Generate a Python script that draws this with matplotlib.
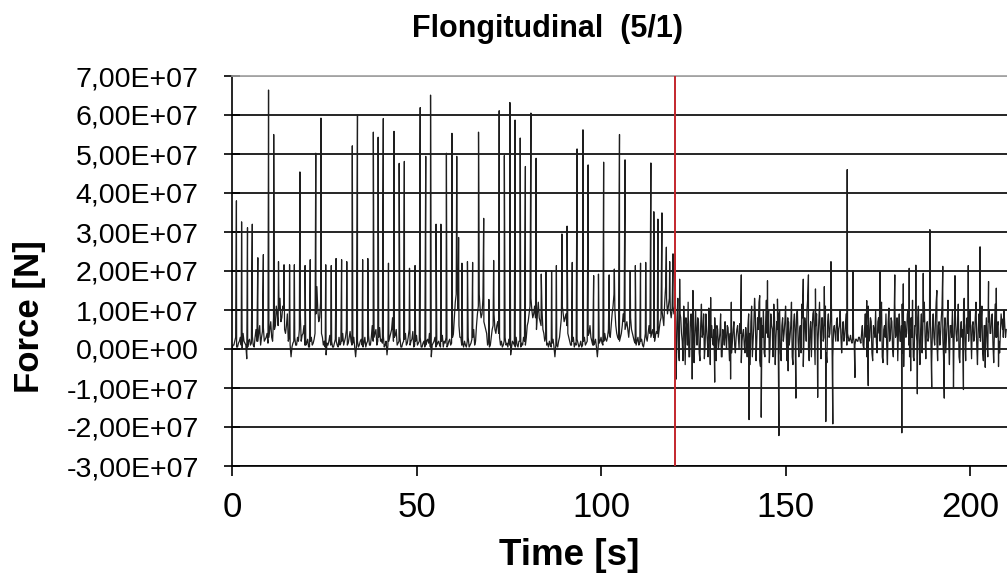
import numpy as np
import matplotlib
matplotlib.use('Agg')
import matplotlib.pyplot as plt
from matplotlib.ticker import FuncFormatter

# ---- data (force in units of 1e7 N) ----
# phase 1 (0-120 s): impact spikes
spike1_t = [1.2, 2.6, 4.2, 5.5, 7.0, 8.5, 9.9, 11.3, 12.6, 14.1, 15.6, 16.9, 18.4, 19.8,
            21.2, 22.7, 24.1, 25.4, 26.9, 28.2, 29.7, 31.1, 32.6, 34.0, 35.4, 36.8, 38.3,
            39.6, 41.0, 42.4, 43.9, 45.3, 46.7, 48.1, 49.6, 51.0, 52.5, 53.8, 55.3, 56.6,
            58.1, 59.6, 60.9, 61.4, 62.3, 63.8, 65.2, 66.8, 68.2, 69.6, 70.9, 72.4, 73.8,
            75.3, 76.7, 78.1, 79.5, 81.0, 82.4, 83.8, 85.1, 86.6, 87.9, 89.4, 90.8, 92.2,
            93.5, 95.1, 96.5, 98.0, 99.3, 100.7, 102.2, 103.6, 105.0, 106.5, 107.9, 109.3,
            110.7, 112.1, 113.5, 114.3, 115.4, 116.5, 117.7, 118.6, 119.5]
spike1_v = [3.80, 3.26, 3.11, 3.20, 2.34, 2.42, 6.64, 5.50, 2.24, 2.16, 2.16, 2.16, 4.54, 2.14,
            2.29, 5.02, 5.92, 2.16, 2.14, 2.32, 2.29, 2.24, 5.21, 6.00, 2.29, 2.32, 5.56,
            5.43, 5.91, 2.20, 5.58, 4.76, 4.81, 2.07, 2.14, 6.19, 4.94, 6.51, 3.20, 3.20,
            5.02, 5.53, 4.94, 2.86, 2.20, 2.24, 2.22, 5.56, 3.35, 1.27, 2.27, 6.11, 4.96,
            6.32, 5.87, 5.41, 4.68, 6.05, 4.89, 1.92, 2.01, 2.01, 2.14, 2.95, 3.15, 2.22,
            5.13, 5.62, 4.72, 1.88, 1.92, 4.79, 1.90, 2.05, 5.50, 4.85, 2.01, 2.14,
            2.20, 2.22, 4.77, 3.52, 3.33, 3.49, 2.61, 2.24, 2.44]

# phase 1 baseline, one value every 0.5 s (a) and the same grid shifted by 0.25 s (b)
base1_dt = 0.5
base1a_v = [
    0.0, 0.1, 0.3, 0.05, 0.2, 0.1, 0.4, 0.15, -0.25, 0.2, 0.1, 0.35, 0.05, 0.5, 0.2, 0.6, 0.3, 0.55, 0.25, 0.4,
    0.3, 0.7, 0.2, 0.5, 1.1, 0.6, 1.3, 0.8, 1.0, 0.4, 0.9, 0.3, -0.2, 0.15, 0.3, 0.1, 0.2, 0.9, 0.35, 0.6,
    0.1, 0.25, 0.05, 0.3, 0.15, 0.4, 1.6, 0.7, 1.2, 0.3, 0.2, -0.15, 0.1, 0.35, 0.2, 0.05, 0.25, 0.1, 0.3, 0.15,
    0.4, 0.2, 0.5, 0.15, 0.45, 0.1, 0.3, -0.2, 0.2, 0.1, 0.25, 0.05, 0.3, 0.15, 0.35, 0.1, 0.6, 0.3, 0.5, 0.2,
    0.55, 0.25, 0.35, 0.1, -0.15, 0.2, 0.4, 0.8, 0.3, 0.5, 0.15, 0.3, 0.05, 0.2, 0.4, 0.15, 0.5, 0.2, 0.45, 0.1,
    0.35, 0.15, 0.3, 0.05, 0.2, 0.1, 0.25, 0.4, -0.2, 0.15, 0.3, 0.1, 0.2, 0.05, 0.35, 0.2, 0.3, 0.1, 0.25, 0.15,
    0.4, 1.2, 1.8, 0.6, 0.3, 0.15, 0.2, 0.05, 0.3, 0.1, 0.25, 0.5, 0.2, 0.9, 1.4, 0.8, 1.3, 0.6, 0.4, 0.2,
    0.1, 0.5, 0.9, 0.4, 0.7, 0.3, 0.2, 0.1, 0.3, 0.15, 0.25, -0.15, 0.2, 0.1, 0.3, 0.05, 0.2, 0.15, 0.3, 0.1,
    0.6, 0.9, 1.3, 0.8, 1.1, 0.5, 1.2, 0.7, 1.0, 0.4, 0.3, 0.15, 0.2, 0.05, 0.25, -0.2, 0.1, 0.2, 0.55, 1.1,
    0.7, 0.9, 0.4, 0.2, 0.1, 0.3, 0.15, 0.25, 0.05, 0.2, 0.1, 0.3, 0.15, 0.35, 0.6, 0.2, 0.1, 0.25, -0.2, 0.15,
    0.3, 0.1, 0.4, 0.2, 0.5, 0.3, 0.9, 1.4, 0.6, 0.3, 0.2, 0.4, 0.9, 0.5, 0.7, 0.3, 0.8, 0.4, 0.2, 0.1,
    0.3, 0.15, 0.25, 0.05, 0.4, 0.2, 0.6, 0.3, 0.5, 0.2, 0.45, 0.3, 0.7, 1.0, 0.6, 1.6, 0.9, 1.3, 0.8, 1.1,
]
base1b_v = [
    0.1, 0.2, 0.05, 0.15, 0.3, 0.0, 0.2, 0.1, 0.05, 0.25, 0.15, 0.1, 0.3, 0.2, 0.4, 0.1, 0.45, 0.2, 0.3, 0.15,
    0.5, 0.3, 0.8, 0.6, 0.9, 1.0, 0.7, 1.1, 0.5, 0.6, 0.2, 0.1, 0.05, 0.2, 0.1, 0.3, 0.5, 0.2, 0.4, 0.1,
    0.15, 0.05, 0.2, 0.1, 0.25, 0.9, 1.0, 0.8, 0.4, 0.1, 0.05, 0.15, 0.2, 0.1, 0.05, 0.15, 0.2, 0.05, 0.1, 0.2,
    0.1, 0.3, 0.1, 0.3, 0.2, 0.15, 0.05, 0.1, 0.05, 0.2, 0.1, 0.15, 0.05, 0.2, 0.1, 0.3, 0.2, 0.4, 0.1, 0.3,
    0.2, 0.15, 0.05, 0.2, 0.1, 0.3, 0.5, 0.2, 0.35, 0.1, 0.2, 0.05, 0.15, 0.25, 0.1, 0.3, 0.1, 0.25, 0.05, 0.2,
    0.1, 0.2, 0.05, 0.15, 0.05, 0.2, 0.15, 0.05, 0.1, 0.2, 0.05, 0.15, 0.1, 0.2, 0.05, 0.15, 0.05, 0.2, 0.1, 0.3,
    0.8, 1.4, 1.0, 0.3, 0.1, 0.05, 0.1, 0.2, 0.05, 0.15, 0.3, 0.1, 0.6, 1.1, 1.0, 0.9, 0.7, 0.5, 0.1, 0.05,
    0.3, 0.6, 0.5, 0.6, 0.4, 0.1, 0.05, 0.2, 0.1, 0.05, 0.1, 0.05, 0.15, 0.05, 0.1, 0.2, 0.05, 0.1, 0.2, 0.3,
    0.7, 1.1, 1.0, 0.9, 0.8, 0.9, 0.8, 0.6, 0.5, 0.2, 0.1, 0.05, 0.1, 0.15, 0.05, 0.1, 0.05, 0.3, 0.8, 0.9,
    0.8, 0.6, 0.3, 0.1, 0.2, 0.05, 0.1, 0.15, 0.1, 0.05, 0.2, 0.1, 0.2, 0.4, 0.3, 0.1, 0.15, 0.05, 0.1, 0.2,
    0.15, 0.2, 0.25, 0.3, 0.4, 0.6, 1.1, 1.0, 0.4, 0.25, 0.3, 0.6, 0.7, 0.6, 0.5, 0.6, 0.5, 0.3, 0.15, 0.2,
    0.1, 0.2, 0.1, 0.2, 0.3, 0.4, 0.4, 0.4, 0.3, 0.35, 0.4, 0.5, 0.8, 0.8, 1.2, 1.3, 1.1, 1.0, 1.0, 0.9,
]

# phase 2 (120-210 s): peaks and dips
spike2_t = [120.1, 120.4, 121.3, 124.7, 124.9, 129.7, 130.8, 135.1, 135.3, 138.0, 140.1, 143.0,
            143.4, 145.1, 147.8, 148.2, 150.7, 152.8, 154.8, 156.2, 158.1, 158.7, 160.5, 160.9,
            162.3, 162.8, 166.7, 168.3, 168.8, 172.0, 172.4, 175.6, 179.6, 181.5, 181.9, 183.5,
            183.9, 185.3, 185.7, 187.3, 189.1, 189.6, 191.0, 192.6, 193.0, 195.5, 195.9, 198.2,
            199.5, 202.7, 204.1, 205.0, 207.1, 207.7, 208.9]
spike2_v = [2.44, -0.77, 1.79, -0.77, 1.50, 1.32, -0.85, -0.77, 1.20, 1.90, -1.81, 1.37,
            -1.75, 1.75, 1.28, -2.22, -0.56, -1.26, 1.79, 1.90, 1.54, -1.24, 1.60, -1.86,
            2.24, -1.92, 4.60, 2.01, -0.73, 1.24, -0.94, 1.98, 1.90, -2.15, 1.67, 2.07,
            -0.56, 2.15, -1.15, 1.94, 3.06, -1.01, 1.50, 2.12, -1.26, -0.98, 1.88, -1.04,
            2.14, 2.62, -0.47, 1.73, 1.56, -0.45, 0.77]

# phase 2 noise band, one value every 0.4 s from 120 s (a) and from 120.2 s (b)
noise2_t0 = 120.0
noise2_dt = 0.4
noise2a_v = [
    0.9, -0.5, 1.3, -0.3, 0.8, 0.2, 1.1, -0.4, 0.6, 1.2, -0.2, 0.9, 0.3, -0.35, 1.0, 0.1, 0.7, -0.3, 1.15, 0.4, -0.25, 0.9, 0.2, 1.05, -0.4,
    0.6, 0.1, 0.8, -0.3, 0.5, 0.2, 0.9, -0.2, 0.4, 0.7, 0.0, 0.55, -0.3, 0.45, 0.2, 0.7, -0.1, 0.5, 0.3, 0.65, -0.35, 0.4, 0.1, 0.55, -0.2,
    0.9, -0.4, 1.1, 0.2, 1.3, -0.3, 0.8, 1.2, -0.45, 0.6, 1.0, -0.2, 1.25, 0.3, -0.35, 0.9, 0.5, 1.15, -0.4, 0.7, 0.2, 1.0, -0.3, 0.8, 0.4,
    1.1, -0.3, 0.7, 0.3, 1.2, -0.4, 0.9, 0.1, 1.0, -0.2, 0.6, 1.15, -0.45, 0.8, 0.2, 1.3, -0.3, 0.7, 0.5, 1.0, -0.4, 0.9, 0.2, 1.2, -0.25,
    0.8, 0.3, 1.1, -0.35, 0.9, 0.4, 1.25, -0.2, 0.6, 0.2, 0.8, 0.5, 1.0, -0.1, 0.7, 0.3, 0.9, 0.4, 0.2, 0.35, 0.15, 0.3, 0.1, 0.25, 0.2,
    0.3, 0.15, 0.6, 0.0, 0.9, -0.2, 1.1, 0.3, 0.7, -0.3, 0.5, 1.0, -0.1, 0.8, 0.2, 1.2, -0.35, 0.6, 0.9, -0.4, 1.05, 0.3, 0.7, -0.2, 1.2,
    0.4, -0.3, 0.9, 0.2, 1.15, -0.45, 0.7, 0.4, 1.0, -0.2, 0.8, 1.25, -0.3, 0.6, 0.2, 1.1, -0.4, 0.9, 0.5, 1.2, -0.25, 0.7, 0.3, 1.0, -0.35,
    0.9, 0.1, 1.2, -0.3, 0.7, 0.4, 1.1, -0.2, 0.8, 0.3, 1.25, -0.4, 0.6, 1.0, -0.1, 0.9, 0.2, 1.15, -0.35, 0.7, 0.5, 1.3, -0.3, 0.8, 0.2,
    1.0, -0.25, 0.7, 0.3, 1.2, -0.4, 0.9, 0.2, 1.1, -0.3, 0.6, 0.8, -0.2, 1.0, 0.4, 0.9, -0.35, 1.15, 0.3, 0.7, -0.1, 0.9, 0.5, 1.0, 0.3,
]
noise2b_v = [
    0.3, 0.7, -0.1, 0.9, 0.4, -0.3, 0.6, 0.8, 0.1, -0.2, 0.7, 0.4, 1.0, 0.2, 0.5, 0.8, -0.1, 0.6, 0.3, 0.9, 0.1, 0.5, -0.2, 0.7, 0.3,
    0.2, 0.5, 0.3, 0.6, 0.0, 0.4, -0.2, 0.5, 0.1, 0.3, 0.6, 0.2, 0.4, -0.1, 0.5, 0.1, 0.3, 0.6, 0.0, 0.4, 0.2, 0.5, -0.1, 0.3, 0.6,
    0.4, 0.7, -0.2, 0.6, 0.9, 0.2, 0.5, -0.3, 0.8, 0.3, -0.1, 0.7, 0.4, 1.0, 0.1, 0.6, -0.2, 0.8, 0.3, 0.5, 0.9, -0.1, 0.6, 0.2, 0.7,
    0.3, 0.8, 0.1, 0.6, -0.2, 0.7, 0.4, 0.9, 0.2, 0.5, -0.1, 0.8, 0.3, 0.6, 1.0, 0.0, 0.5, -0.2, 0.9, 0.3, 0.6, 0.1, 0.7, 0.4, 0.8,
    0.2, 0.6, -0.1, 0.7, 0.3, 0.8, 0.1, 0.5, 0.4, 0.7, 0.2, 0.6, 0.3, 0.5, 0.2, 0.6, 0.1, 0.3, 0.25, 0.2, 0.3, 0.15, 0.25, 0.2, 0.3,
    0.2, 0.4, 0.1, 0.5, 0.3, 0.6, 0.2, 0.8, -0.1, 0.6, 0.3, 0.2, 0.7, 0.4, 0.9, -0.2, 0.5, 0.3, 0.1, 0.7, 0.2, 0.8, 0.0, 0.6, 0.3,
    0.8, 0.5, 0.2, 0.6, -0.1, 0.7, 0.3, 0.9, 0.1, 0.5, 0.3, -0.2, 0.6, 0.4, 0.8, 0.2, 0.5, -0.1, 0.7, 0.3, 0.6, 0.2, 0.8, 0.1, 0.5,
    0.3, 0.7, 0.2, 0.6, 0.1, 0.8, 0.3, 0.5, -0.1, 0.7, 0.2, 0.6, 0.3, 0.1, 0.8, 0.4, 0.6, -0.2, 0.5, 0.3, 0.9, 0.2, 0.6, 0.4, 0.7,
    0.4, 0.6, 0.2, 0.8, 0.1, 0.5, 0.3, 0.7, -0.1, 0.6, 0.3, 0.2, 0.7, 0.4, 0.8, 0.1, 0.5, 0.3, 0.6, 0.2, 0.4, 0.7, 0.3, 0.6, 0.5,
]

switch_time = 120.0
x_ticks = [0, 50, 100, 150, 200]
y_ticks = [-3, -2, -1, 0, 1, 2, 3, 4, 5, 6, 7]

# ---- assemble series ----
t_all = np.concatenate([
    spike1_t,
    base1_dt * np.arange(len(base1a_v)),
    base1_dt * np.arange(len(base1b_v)) + base1_dt / 2,
    spike2_t,
    noise2_t0 + noise2_dt * np.arange(len(noise2a_v)),
    noise2_t0 + noise2_dt * np.arange(len(noise2b_v)) + noise2_dt / 2,
])
f_all = np.concatenate([spike1_v, base1a_v, base1b_v, spike2_v, noise2a_v, noise2b_v]) * 1e7
order = np.argsort(t_all, kind='stable')
t_all, f_all = t_all[order], f_all[order]

plt.rcParams['font.family'] = ['Liberation Sans', 'DejaVu Sans']

fig = plt.figure(figsize=(10.07, 5.75), dpi=100)
ax = fig.add_axes([232 / 1007, 1 - 466 / 575, 775 / 1007, 390 / 575])

ax.plot(t_all, f_all, color='#1e1e1e', lw=0.9, zorder=2)
ax.axvline(switch_time, color='#c3262c', lw=1.4, zorder=3)

ax.set_xlim(0, 210)
ax.set_ylim(-3e7, 7e7)
ax.set_xticks(x_ticks)
ax.set_yticks([v * 1e7 for v in y_ticks])


def sci_comma(v, pos):
    if abs(v) < 1:
        return '0,00E+00'
    return f'{v / 1e7:.2f}'.replace('.', ',') + 'E+07'


ax.yaxis.set_major_formatter(FuncFormatter(sci_comma))
ax.set_axisbelow(True)
ax.yaxis.grid(True, color='black', lw=1.2)
ax.get_ygridlines()[-1].set_color('#a0a0a0')

for side in ['left', 'bottom']:
    ax.spines[side].set_color('black')
    ax.spines[side].set_linewidth(1.2)
ax.spines['top'].set_color('#a0a0a0')
ax.spines['top'].set_linewidth(1.2)
ax.spines['right'].set_visible(False)

ax.tick_params(axis='y', direction='inout', length=12, width=1.2, pad=18, labelsize=20.5)
ax.tick_params(axis='x', direction='out', length=7, width=1.2, pad=11, labelsize=25)

fig.text(547.5 / 1007, 1 - 36.7 / 575, 'Flongitudinal  (5/1)', ha='center', va='baseline',
         fontsize=22, fontweight='bold')
fig.text(569 / 1007, 1 - 565 / 575, 'Time [s]', ha='center', va='baseline',
         fontsize=26.5, fontweight='bold')
fig.text(30 / 1007, 1 - 317 / 575, 'Force [N]', ha='center', va='center', rotation=90,
         fontsize=25, fontweight='bold')

fig.savefig('out.png', dpi=100)
